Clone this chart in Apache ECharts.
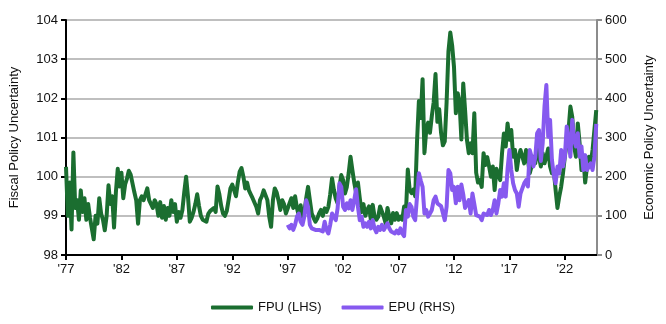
<!DOCTYPE html>
<html>
<head>
<meta charset="utf-8">
<script src="https://cdn.jsdelivr.net/npm/echarts@6/dist/echarts.min.js"></script>
<style>
  html, body { margin: 0; padding: 0; background: #fff; }
  #chart { width: 666px; height: 324px; }
</style>
</head>
<body>
<div id="chart"></div>
<script>
// Both indices are sampled every two months (Jan, Mar, May, Jul, Sep, Nov).
const fpuStartYear = 1977;
const epuStartYear = 1997;
const stepYears = 2 / 12;

// Fiscal Policy Uncertainty index (left axis)
const fpuValues = [
  100.25, 99.0, 99.85, 98.65, 100.62, 99.2,     // 1977
  99.4, 98.9, 99.65, 99.1, 99.45, 98.9,         // 1978
  99.3, 98.95, 98.9, 98.4, 99.0, 98.8,          // 1979
  99.45, 99.06, 98.9, 98.63, 99.0, 99.78,       // 1980
  99.3, 99.5, 98.7, 99.6, 100.2, 99.75,         // 1981
  100.1, 99.45, 99.8, 99.95, 100.15, 100.05,    // 1982
  100.05, 99.6, 99.4, 98.8, 99.4, 99.5,         // 1983
  99.4, 99.55, 99.7, 99.4, 99.45, 99.2,         // 1984
  99.4, 99.3, 99.0, 99.35, 98.95, 99.25,        // 1985
  98.9, 99.2, 99.0, 99.4, 99.1, 99.3,           // 1986
  98.85, 99.1, 98.95, 99.15, 99.6, 100.0,       // 1987
  99.5, 98.85, 98.95, 99.1, 99.3, 99.55,        // 1988
  99.25, 99.0, 98.9, 98.95, 98.85, 99.05,       // 1989
  99.12, 99.15, 99.2, 99.1, 99.75, 99.55,       // 1990
  99.25, 99.06, 99.0, 99.12, 99.4, 99.7,        // 1991
  99.8, 99.85, 99.5, 99.85, 100.13, 100.22,     // 1992
  100.0, 99.7, 99.85, 99.65, 99.55, 99.45,      // 1993
  99.4, 99.23, 99.06, 99.4, 99.5, 99.65,        // 1994
  99.7, 99.4, 98.98, 98.72, 99.4, 99.7,         // 1995
  99.6, 99.4, 99.15, 99.4, 99.3, 99.06,         // 1996
  99.1, 99.32, 99.45, 99.2, 99.5, 99.2,         // 1997
  99.0, 99.27, 98.93, 99.1, 99.45, 99.74,       // 1998
  99.4, 99.06, 98.95, 98.85, 98.93, 99.06,      // 1999
  99.15, 99.0, 99.19, 99.1, 99.23, 99.55,       // 2000
  99.96, 99.66, 99.44, 99.32, 99.74, 100.04,    // 2001
  99.91, 99.57, 99.74, 100.09, 100.51, 100.17,  // 2002
  99.85, 99.6, 99.85, 99.45, 99.1, 99.3,        // 2003
  99.0, 99.15, 99.24, 98.9, 99.28, 98.98,       // 2004
  98.9, 98.98, 99.24, 99.28, 98.98, 98.81,      // 2005
  99.2, 98.98, 98.81, 99.07, 98.9, 99.07,       // 2006
  98.9, 98.98, 98.9, 99.24, 99.1, 100.18,       // 2007
  99.67, 99.58, 99.67, 99.5, 100.9, 101.93,     // 2008
  101.5, 102.49, 100.6, 101.2, 101.38, 101.12,  // 2009
  101.55, 101.9, 102.62, 101.4, 101.72, 101.12, // 2010
  100.8, 100.9, 101.9, 103.2, 103.68, 103.35,   // 2011
  102.8, 101.62, 102.13, 101.9, 100.95, 102.38, // 2012
  101.7, 100.94, 100.6, 100.85, 100.6, 101.62,  // 2013
  100.1, 99.85, 99.91, 99.74, 100.6, 100.3,     // 2014
  100.5, 100.26, 100.0, 100.26, 99.66, 100.2,   // 2015
  100.17, 99.91, 100.6, 101.1, 100.77, 101.36,  // 2016
  100.94, 101.19, 100.51, 100.68, 100.17, 100.51, // 2017
  100.68, 100.51, 100.34, 100.68, 100.43, 100.09, // 2018
  100.26, 100.51, 100.34, 100.77, 100.51, 100.26, // 2019
  100.6, 100.34, 100.51, 100.72, 100.26, 100.09,  // 2020
  100.17, 99.66, 99.2, 99.5, 99.74, 100.09,       // 2021
  100.51, 100.85, 101.19, 101.79, 101.53, 100.77, // 2022
  100.51, 101.36, 100.85, 100.17, 100.51, 99.85,  // 2023
  100.26, 100.51, 100.34, 100.68, 101.19, 101.7   // 2024
];

// Economic Policy Uncertainty index (right axis)
const epuValues = [
  77, 68, 77, 64, 77, 98,        // 1997
  106, 85, 77, 98, 140, 123,     // 1998
  77, 68, 68, 64, 68, 64,        // 1999
  60, 60, 85, 64, 55, 77,        // 2000
  106, 111, 89, 119, 183, 174,   // 2001
  123, 115, 132, 119, 140, 115,  // 2002
  140, 168, 123, 89, 98, 72,     // 2003
  81, 72, 85, 68, 89, 68,        // 2004
  58, 72, 64, 77, 64, 60,        // 2005
  81, 68, 60, 64, 55, 62,        // 2006
  55, 68, 55, 48, 115, 98,       // 2007
  130, 123, 98, 89, 150, 209,    // 2008
  190, 174, 106, 115, 98, 106,   // 2009
  115, 140, 149, 132, 136, 125,  // 2010
  125, 89, 123, 217, 209, 166,   // 2011
  174, 132, 174, 140, 180, 155,  // 2012
  120, 130, 140, 106, 157, 130,  // 2013
  102, 104, 98, 89, 106, 110,    // 2014
  102, 115, 102, 115, 140, 106,  // 2015
  132, 166, 149, 183, 149, 220,  // 2016
  268, 217, 183, 166, 157, 123,  // 2017
  157, 170, 183, 191, 175, 268,  // 2018
  251, 226, 250, 311, 319, 240,  // 2019
  285, 380, 434, 302, 345, 243,  // 2020
  205, 183, 226, 208, 268, 226,  // 2021
  251, 328, 294, 251, 345, 294,  // 2022
  277, 311, 251, 277, 217, 255,  // 2023
  217, 226, 234, 217, 251, 335   // 2024
];

// Labelled years on the time axis
const tickYears = [1977, 1982, 1987, 1992, 1997, 2002, 2007, 2012, 2017, 2022];
const axisEndYear = 2024.9;

const toSeries = (start, values) => values.map((v, i) => [start + i * stepYears, v]);

const font = 'Liberation Sans, Arial, Helvetica, sans-serif';
const textColor = '#111';

const chart = echarts.init(document.getElementById('chart'), null, { renderer: 'canvas' });
chart.setOption({
  animation: false,
  backgroundColor: '#fff',
  textStyle: { fontFamily: font },
  grid: { left: 63, right: 69, top: 20, bottom: 69 },
  legend: {
    left: 'center',
    top: 296,
    icon: 'roundRect',
    itemWidth: 42,
    itemHeight: 4,
    itemGap: 20,
    textStyle: { fontFamily: font, fontSize: 13, color: textColor },
    data: ['FPU (LHS)', 'EPU (RHS)']
  },
  xAxis: {
    type: 'value',
    min: fpuStartYear,
    max: axisEndYear,
    splitLine: { show: false },
    axisLine: { lineStyle: { color: '#000', width: 2 } },
    axisTick: { customValues: tickYears, length: 5, lineStyle: { color: '#000', width: 2 } },
    axisLabel: {
      customValues: tickYears,
      formatter: v => "'" + String(Math.round(v)).slice(2),
      margin: 8,
      fontFamily: font,
      fontSize: 13,
      color: textColor
    }
  },
  yAxis: [
    {
      type: 'value',
      position: 'left',
      min: 98,
      max: 104,
      interval: 1,
      name: 'Fiscal Policy Uncertainty',
      nameLocation: 'middle',
      nameGap: 45,
      nameTextStyle: { fontFamily: font, fontSize: 13, color: textColor },
      axisLine: { show: true, lineStyle: { color: '#000', width: 2 } },
      axisTick: { show: true, length: 5, lineStyle: { color: '#000', width: 2 } },
      axisLabel: { margin: 8, fontFamily: font, fontSize: 13, color: textColor },
      splitLine: { lineStyle: { color: '#bfbfbf', width: 2 } }
    },
    {
      type: 'value',
      position: 'right',
      min: 0,
      max: 600,
      interval: 100,
      name: 'Economic Policy Uncertainty',
      nameLocation: 'middle',
      nameGap: 46,
      nameTextStyle: { fontFamily: font, fontSize: 13, color: textColor },
      axisLine: { show: true, lineStyle: { color: '#8c8c8c', width: 2 } },
      axisTick: { show: true, length: 5, lineStyle: { color: '#8c8c8c', width: 2 } },
      axisLabel: { margin: 8, fontFamily: font, fontSize: 13, color: textColor },
      splitLine: { show: false }
    }
  ],
  series: [
    {
      name: 'FPU (LHS)',
      type: 'line',
      yAxisIndex: 0,
      showSymbol: false,
      color: '#1b6e30',
      lineStyle: { color: '#1b6e30', width: 4, join: 'round' },
      data: toSeries(fpuStartYear, fpuValues)
    },
    {
      name: 'EPU (RHS)',
      type: 'line',
      yAxisIndex: 1,
      showSymbol: false,
      color: '#8659ef',
      lineStyle: { color: '#8659ef', width: 4, join: 'round' },
      data: toSeries(epuStartYear, epuValues)
    }
  ]
});
</script>
</body>
</html>
